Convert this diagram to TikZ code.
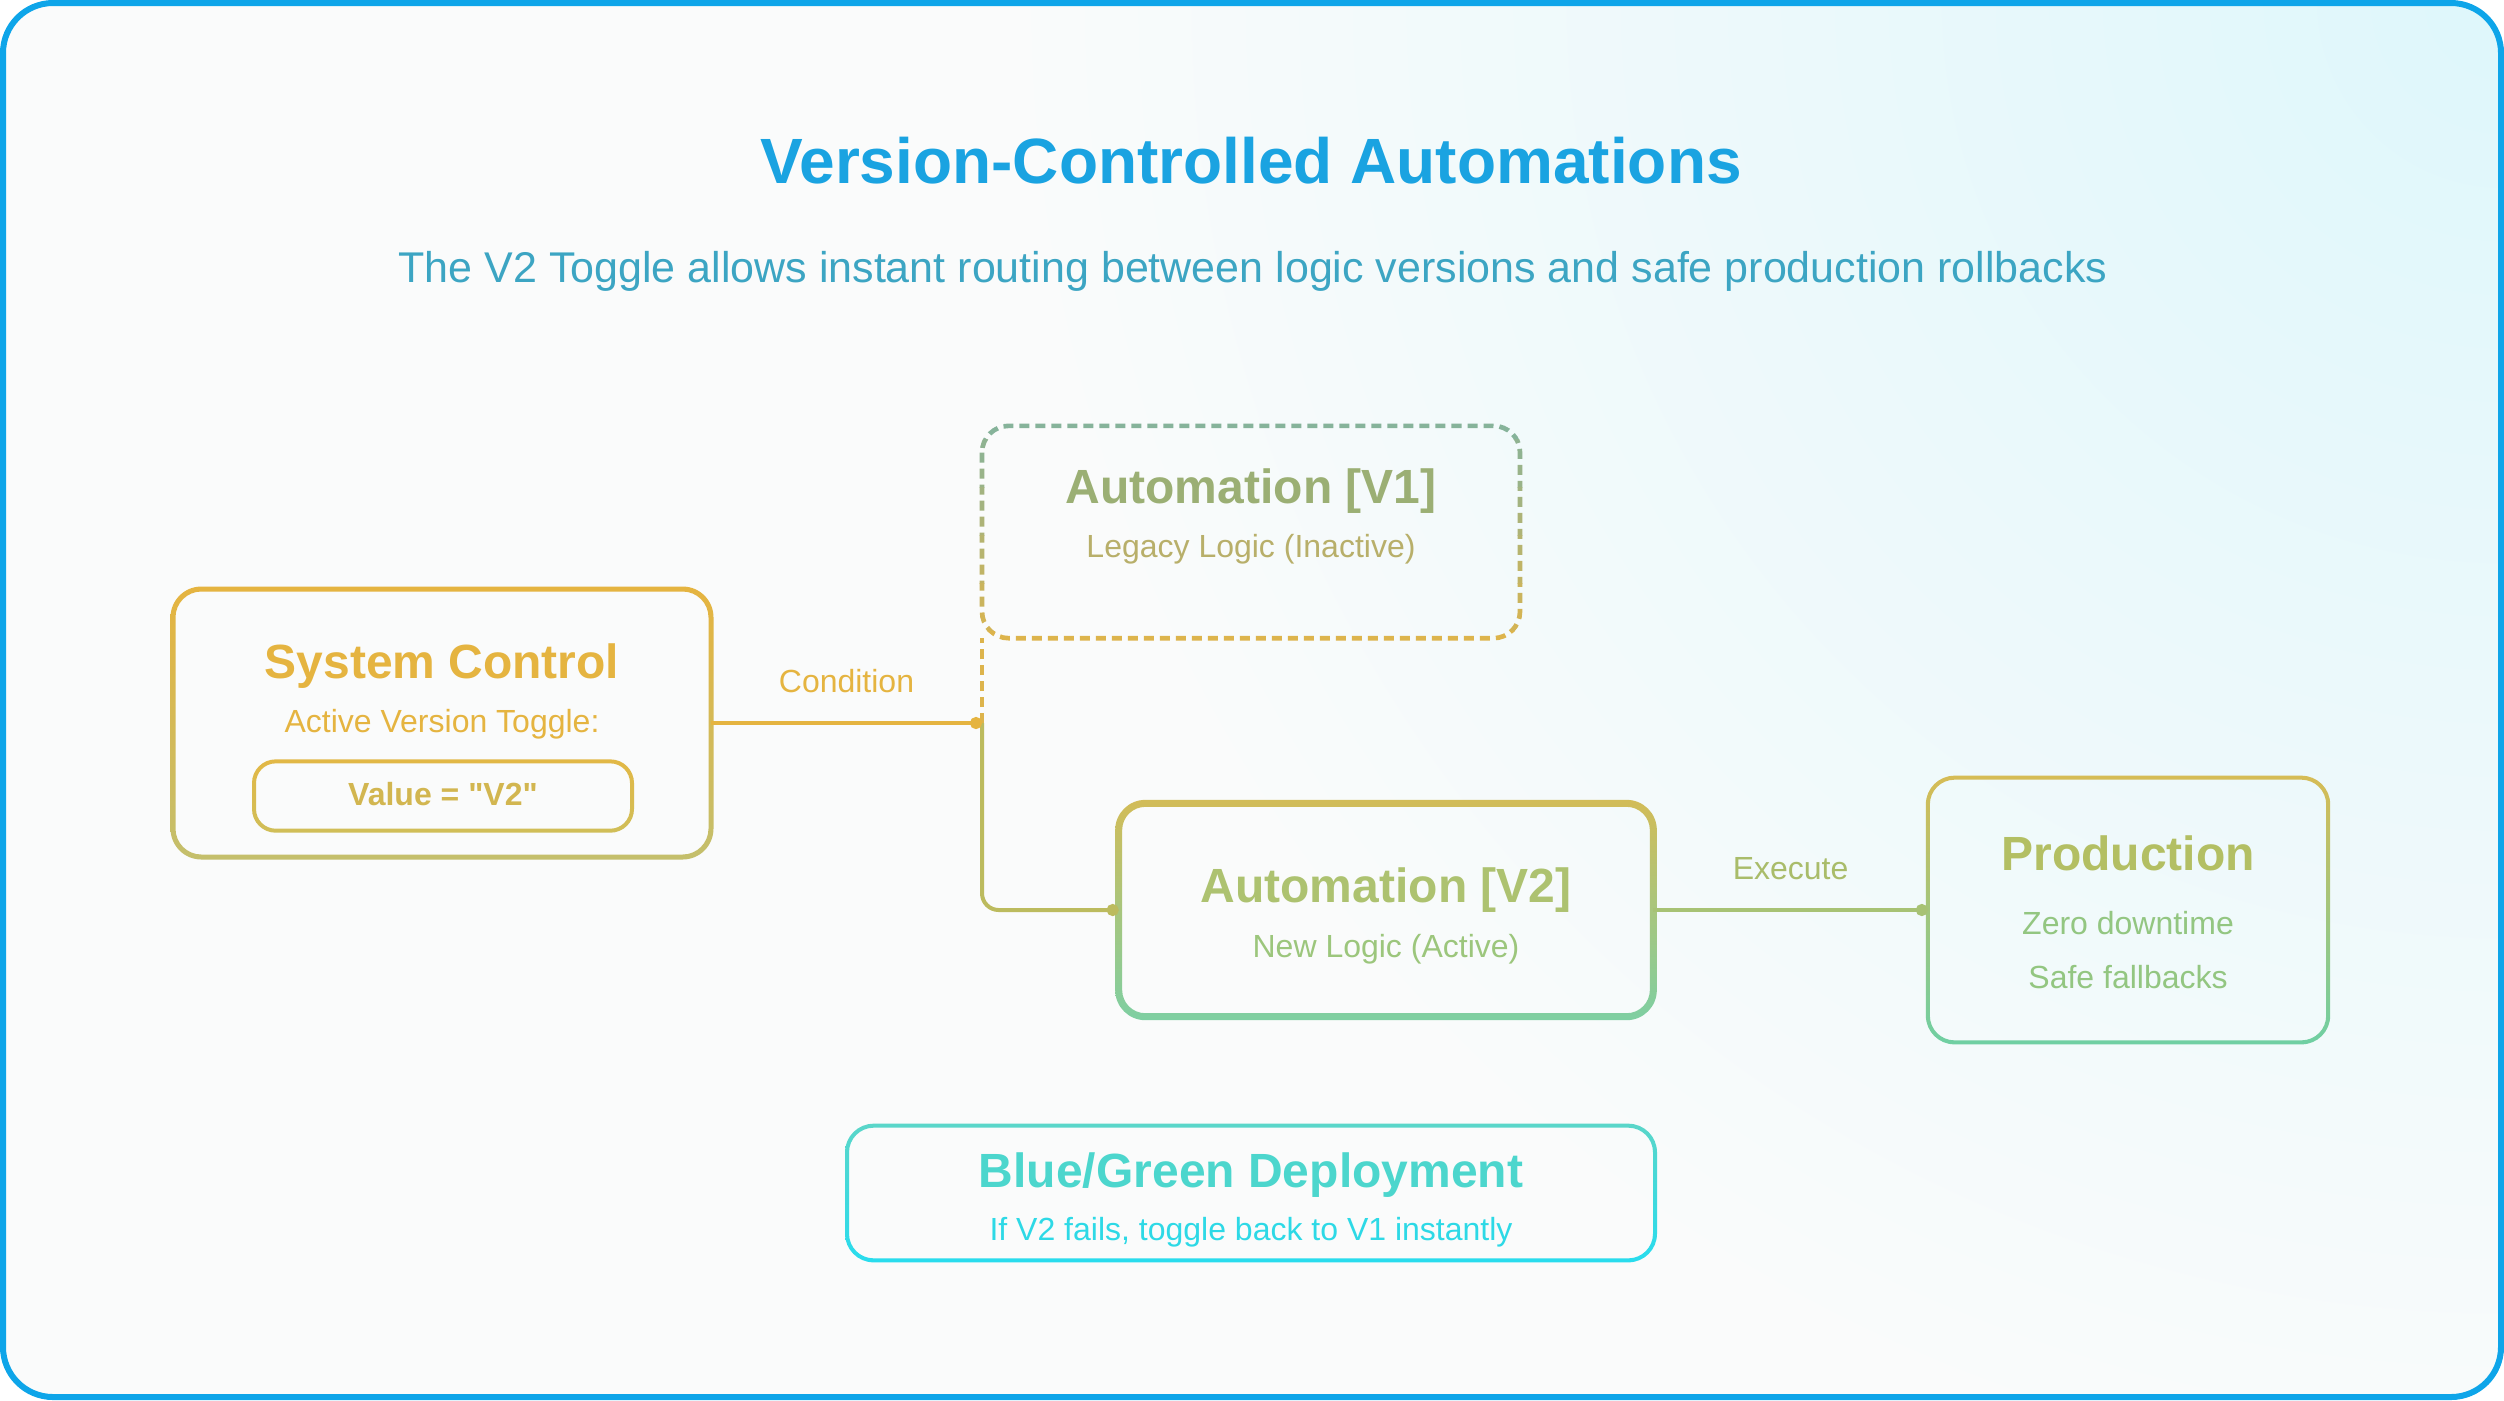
\documentclass[tikz,border=0pt]{standalone}
\usepackage{fontspec}
\setmainfont{Liberation Sans}[Ligatures=TeXOff]
\usetikzlibrary{positioning,arrows.meta}

\definecolor{frameblue}{HTML}{0EA5E9}
\definecolor{titleblue}{HTML}{1AA3E1}
\definecolor{subblue}{HTML}{3CA5C3}
\definecolor{bgwhite}{HTML}{FAFBFB}
\definecolor{bgcyan}{HTML}{DEF7FB}
\definecolor{scgold}{HTML}{E5B440}
\definecolor{scolive}{HTML}{C4BF6C}
\definecolor{valtop}{HTML}{E2B846}
\definecolor{valbottom}{HTML}{D0BE58}
\definecolor{valtext}{HTML}{D2B650}
\definecolor{vgreen}{HTML}{86B39A}
\definecolor{vgold}{HTML}{DDB44C}
\definecolor{vtitle}{HTML}{9BAF74}
\definecolor{vsub}{HTML}{B8AF6A}
\definecolor{ntop}{HTML}{D2BC58}
\definecolor{nbottom}{HTML}{7ECFA2}
\definecolor{ntitle}{HTML}{ADC270}
\definecolor{nsub}{HTML}{9CC67C}
\definecolor{ptop}{HTML}{D6BC55}
\definecolor{pbottom}{HTML}{6FCFA3}
\definecolor{ptitle}{HTML}{B3BF63}
\definecolor{psub}{HTML}{93C681}
\definecolor{bgtop}{HTML}{5AD6C9}
\definecolor{bgbottom}{HTML}{28DCEE}
\definecolor{bgtitle}{HTML}{4CD6CD}
\definecolor{bgsub}{HTML}{2DD9E6}
\definecolor{linkolive}{HTML}{BCBB5E}
\definecolor{execline}{HTML}{A7C274}
\definecolor{execlbl}{HTML}{A9BC6A}

% border of a box node, shaded from top colour to bottom colour
\newcommand{\gradring}[5]{%
	\shade[even odd rule,top color=#4,bottom color=#5]
		[rounded corners=#3+#2] ([shift={(-#2,#2)}]#1.north west) rectangle ([shift={(#2,-#2)}]#1.south east)
		[rounded corners=#3-#2] ([shift={(#2,-#2)}]#1.north west) rectangle ([shift={(-#2,#2)}]#1.south east);}

\begin{document}
\begin{tikzpicture}[x=0.3pt,y=-0.3pt,
	box/.style={rectangle,rounded corners=8pt,inner sep=0pt},
	head/.style={anchor=base,font=\fontsize{14.4}{17}\selectfont\bfseries},
	note/.style={anchor=base,font=\fontsize{9.6}{12}\selectfont},
	tag/.style={font=\fontsize{9.6}{12}\selectfont,inner sep=0pt},
	dashline/.style={line width=1.4pt,dash pattern=on 3pt off 1.8pt},
	link/.style={line width=1.2pt,-{Circle[length=3.6pt]}}]
			
			\useasboundingbox (0,0) rectangle (2504,1400);
			\begin{scope}
				\clip[rounded corners=15pt] (3,3) rectangle (2501,1397);
				\fill[bgwhite] (0,0) rectangle (2504,1400);
				\shade[inner color=bgcyan,outer color=bgwhite] (2504,0) circle (1500);
			\end{scope}
			\draw[frameblue,line width=1.8pt,rounded corners=15pt] (3,3) rectangle (2501,1397);
			
			\node[anchor=base,font=\fontsize{19.2}{23}\selectfont\bfseries,text=titleblue] (title) at (1251,183) {Version-Controlled Automations};
			\node[anchor=base,font=\fontsize{12.9}{15}\selectfont,text=subblue] (subtitle) at (1253,282) {The V2 Toggle allows instant routing between logic versions and safe production rollbacks};
			
			% system control
			\node[box,minimum width=161pt,minimum height=80pt] (sc) at (442,723) {};
			\gradring{sc}{0.75pt}{8.5pt}{scgold}{scolive}
			\node[head,text=scgold] (sctitle) at (442,678) {System Control};
			\node[note,text=scgold] (scnote) at (442,732) {Active Version Toggle:};
			\node[box,minimum width=113pt,minimum height=20.4pt] (val) at (443,796) {};
			\gradring{val}{0.6pt}{6.5pt}{valtop}{valbottom}
			\node[anchor=base,font=\fontsize{9.6}{12}\selectfont\bfseries,text=valtext] (valtext) at (443,805) {Value = "V2"};
			
			% old version, dashed
			\node[box,minimum width=161pt,minimum height=63.3pt] (v1) at (1251,532) {};
			\foreach \k in {0,...,9}{
				\pgfmathsetmacro\p{100-\k*11.1}
				\begin{scope}
					\clip (960,415+\k*24) rectangle (1545,439+\k*24);
					\draw[dashline,draw=vgreen!\p!vgold,rounded corners=8pt] (v1.north west) rectangle (v1.south east);
				\end{scope}
			}
			\node[head,text=vtitle] (v1title) at (1251,503) {Automation [V1]};
			\node[note,text=vsub] (v1note) at (1251,557) {Legacy Logic (Inactive)};
			
			% new version
			\node[box,minimum width=160pt,minimum height=63.6pt] (v2) at (1386,910) {};
			\gradring{v2}{1.05pt}{8pt}{ntop}{nbottom}
			\node[head,text=ntitle] (v2title) at (1386,902) {Automation [V2]};
			\node[note,text=nsub] (v2note) at (1386,957) {New Logic (Active)};
			
			% production
			\node[box,minimum width=119.7pt,minimum height=79pt] (prod) at (2128,910) {};
			\gradring{prod}{0.6pt}{8pt}{ptop}{pbottom}
			\node[head,text=ptitle] (prodtitle) at (2128,870) {Production};
			\node[note,text=psub] (prodnote1) at (2128,934) {Zero downtime};
			\node[note,text=psub] (prodnote2) at (2128,988) {Safe fallbacks};
			
			% rollback note
			\node[box,minimum width=242pt,minimum height=40pt] (bg) at (1251,1193) {};
			\gradring{bg}{0.6pt}{8pt}{bgtop}{bgbottom}
			\node[head,text=bgtitle] (bgtitle) at (1251,1187) {Blue/Green Deployment};
			\node[note,text=bgsub] (bgnote) at (1251,1240) {If V2 fails, toggle back to V1 instantly};
			
			% routing
			\coordinate (split) at (v1.south west |- sc.east);
			\draw[dashline,vgold] (split) -- (v1.south west);
			\draw[link,linkolive,rounded corners=5pt] (split) |- (v2.west);
			\draw[link,scgold] (sc.east) -- node[tag,text=scgold,yshift=12.5pt] {Condition} (split);
			\draw[link,execline] (v2.east) -- node[tag,text=execlbl,yshift=12.5pt] {Execute} (prod.west);
			
\end{tikzpicture}
\end{document}
